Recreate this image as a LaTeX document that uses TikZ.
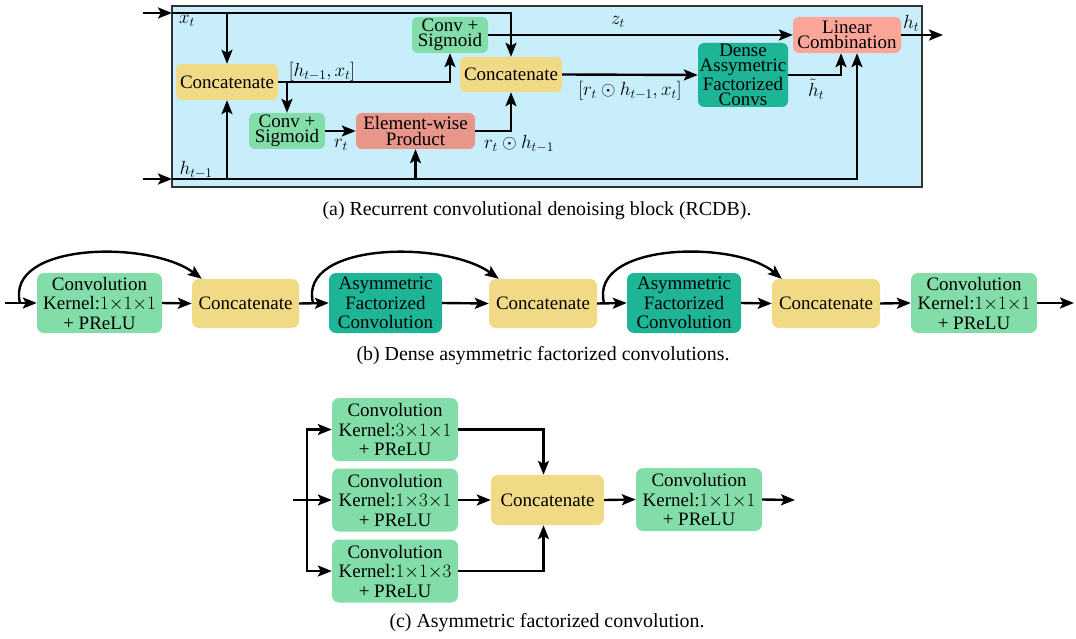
\documentclass[tikz,border=0pt]{standalone}
\usepackage{fix-cm}
\usepackage{fontspec}
\setmainfont{Liberation Serif}[Ligatures=TeX]
\usetikzlibrary{arrows.meta}
\definecolor{cgreen}{HTML}{82DDA9}
\definecolor{cyellow}{HTML}{F0DA86}
\definecolor{cteal}{HTML}{1EB596}
\definecolor{csalmon}{HTML}{E8958A}
\definecolor{clsalmon}{HTML}{FCA69A}
\definecolor{cbg}{HTML}{C8EEFC}
\definecolor{cborder}{HTML}{333333}
\newcommand{\kx}{\ensuremath{{\times}}}
\tikzset{
  arr/.style={line width=2.4pt,-{Stealth[length=14pt,width=11pt,inset=3pt]}},
  boxa/.style={rounded corners=6pt,align=center,inner sep=0pt,font=\rmfamily\fontsize{19}{15.5}\selectfont},
  boxb/.style={rounded corners=7pt,align=center,inner sep=0pt,font=\rmfamily\fontsize{19}{19.5}\selectfont},
  gbox/.style={fill=cgreen},
  ybox/.style={fill=cyellow},
  tbox/.style={fill=cteal},
  lbl/.style={inner sep=0pt,font=\fontsize{19}{20}\selectfont},
  captext/.style={inner sep=0pt,font=\rmfamily\fontsize{19.9}{22}\selectfont}
}
\begin{document}
\begin{tikzpicture}[x=1pt,y=-1pt]
\useasboundingbox (0,0) rectangle (1076,639);
% ---------- (a) ----------
\fill[cbg,draw=cborder,line width=1.4pt] (172,6) rectangle (922,187);
\node[boxa,ybox,minimum width=102pt,minimum height=36pt] (cat1) at (227,82) {Concatenate};
\node[boxa,gbox,minimum width=76pt,minimum height=36pt] (cs1) at (450,35) {Conv +\\Sigmoid};
\node[boxa,gbox,minimum width=76pt,minimum height=36pt] (cs2) at (287,131) {Conv +\\Sigmoid};
\node[boxa,fill=csalmon,minimum width=119pt,minimum height=36pt] (ew) at (415.5,131) {Element-wise\\Product};
\node[boxa,ybox,minimum width=102pt,minimum height=35pt] (cat2) at (511,74.5) {Concatenate};
\node[boxa,tbox,minimum width=90pt,minimum height=64pt] (dense) at (743,75) {Dense\\Assymetric\\Factorized\\Convs};
\node[boxa,fill=clsalmon,minimum width=108pt,minimum height=36pt] (lc) at (847,35) {Linear\\Combination};
\coordinate (xs) at (143,13);
\coordinate (xb) at (172,13);
\coordinate (hs) at (143,179);
\coordinate (hb) at (172,179);
\coordinate (hout) at (943,35);
\draw[arr] (xs) -- (xb);
\draw[arr] (hs) -- (hb);
\draw[arr] (xb) -| (cat2.north);
\draw[arr] (cat1.north |- xb) -- (cat1.north);
\draw[arr] (hb) -| ([xshift=10pt]lc.south);
\draw[arr] (cat1.south |- hb) -- (cat1.south);
\draw[arr] (ew.south |- hb) -- (ew.south);
\draw[arr] (cat1.east) -| (cs1.south);
\draw[arr] (cat1.east -| cs2.north) -- (cs2.north);
\draw[arr] (cs2.east) -- (ew.west);
\draw[arr] (ew.east) -| (cat2.south);
\draw[arr] (cs1.east) -- (lc.west);
\draw[arr] (cat2.east) -- (dense.west);
\draw[arr] (dense.east) -| ([xshift=-6pt]lc.south);
\draw[arr] (lc.east) -- (hout);
\node[lbl] (lxt) at (187,21) {$x_t$};
\node[lbl] (lht1) at (196,170) {$h_{t-1}$};
\node[lbl] (lhx) at (322,72) {$[h_{t-1},x_t]$};
\node[lbl] (lrt) at (341,145) {$r_t$};
\node[lbl] (lrh) at (519,144) {$r_t\odot h_{t-1}$};
\node[lbl] (lzt) at (618,22) {$z_t$};
\node[lbl] (lrhx) at (630,91) {$[r_t\odot h_{t-1},x_t]$};
\node[lbl] (lht) at (816,89) {$\tilde{h}_t$};
\node[lbl] (lhto) at (911,23) {$h_t$};
\node[captext] (capa) at (537,211) {(a) Recurrent convolutional denoising block (RCDB).};
% ---------- (b) ----------
\node[boxb,gbox,minimum width=125pt,minimum height=60pt] (b1) at (99.5,303) {Convolution\\Kernel:$1\kx1\kx1$\\+ PReLU};
\node[boxb,ybox,minimum width=107pt,minimum height=49pt] (b2) at (245.5,303.5) {Concatenate};
\node[boxb,tbox,minimum width=113pt,minimum height=60pt] (b3) at (385.5,303) {Asymmetric\\Factorized\\Convolution};
\node[boxb,ybox,minimum width=108pt,minimum height=49pt] (b4) at (543,303.5) {Concatenate};
\node[boxb,tbox,minimum width=114pt,minimum height=60pt] (b5) at (684,303) {Asymmetric\\Factorized\\Convolution};
\node[boxb,ybox,minimum width=108pt,minimum height=49pt] (b6) at (826,303.5) {Concatenate};
\node[boxb,gbox,minimum width=126pt,minimum height=60pt] (b7) at (974,303) {Convolution\\Kernel:$1\kx1\kx1$\\+ PReLU};
\coordinate (bin) at (5,303);
\coordinate (bout) at (1074,303);
\coordinate (k1) at (20,303);
\coordinate (k2) at (313,303);
\coordinate (k3) at (604,303);
\draw[arr] (bin) -- (b1.west);
\draw[arr] (b1.east) -- (b2.west);
\draw[arr] (b2.east) -- (b3.west);
\draw[arr] (b3.east) -- (b4.west);
\draw[arr] (b4.east) -- (b5.west);
\draw[arr] (b5.east) -- (b6.west);
\draw[arr] (b6.east) -- (b7.west);
\draw[arr] (b7.east) -- (bout);
\draw[arr] (k1) .. controls (5,242) and (150,240) .. ([xshift=10pt]b2.north west);
\draw[arr] (k2) .. controls (298,242) and (445,240) .. ([xshift=10pt]b4.north west);
\draw[arr] (k3) .. controls (589,242) and (736,240) .. ([xshift=10pt]b6.north west);
\node[captext] (capb) at (543,356) {(b) Dense asymmetric factorized convolutions.};
% ---------- (c) ----------
\node[boxb,gbox,minimum width=126pt,minimum height=63pt] (c1) at (395,429.5) {Convolution\\Kernel:$3\kx1\kx1$\\+ PReLU};
\node[boxb,gbox,minimum width=126pt,minimum height=63pt] (c2) at (395,500) {Convolution\\Kernel:$1\kx3\kx1$\\+ PReLU};
\node[boxb,gbox,minimum width=126pt,minimum height=63pt] (c3) at (395,571) {Convolution\\Kernel:$1\kx1\kx3$\\+ PReLU};
\node[boxb,ybox,minimum width=113pt,minimum height=50pt] (cc) at (547.5,500) {Concatenate};
\node[boxb,gbox,minimum width=126pt,minimum height=63pt] (co) at (699,499.5) {Convolution\\Kernel:$1\kx1\kx1$\\+ PReLU};
\coordinate (cin) at (293,500);
\coordinate (csp) at (307,500);
\coordinate (cout) at (795,500);
\draw[arr] (cin) -- (c2.west);
\draw[arr] (csp) |- (c1.west);
\draw[arr] (csp) |- (c3.west);
\draw[arr] (c1.east) -| ([xshift=-4pt]cc.north);
\draw[arr] (c3.east) -| ([xshift=-4pt]cc.south);
\draw[arr] (c2.east) -- (cc.west);
\draw[arr] (cc.east) -- (co.west);
\draw[arr] (co.east) -- (cout);
\node[captext] (capc) at (547,623) {(c) Asymmetric factorized convolution.};
\end{tikzpicture}
\end{document}
